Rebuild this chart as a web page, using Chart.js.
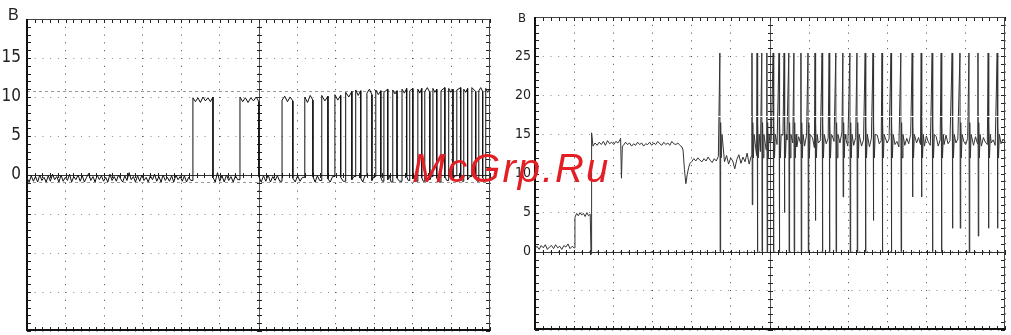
<!DOCTYPE html>
<html><head><meta charset="utf-8">
<script src="https://cdn.jsdelivr.net/npm/chart.js@4"></script>
<style>
html,body{margin:0;padding:0;background:#fff;width:1011px;height:335px;overflow:hidden;position:relative}
#wl{position:absolute;left:0;top:0;width:500px;height:335px}
#wr{position:absolute;left:500px;top:0;width:511px;height:335px}
.unit{position:absolute;color:#222;white-space:nowrap}
#ul{left:8px;top:7px;font:16px/16px 'Liberation Sans',Arial,sans-serif}
#ur{left:518px;top:11px;font:13px/13px 'Liberation Sans Narrow','DejaVu Sans Condensed',sans-serif}
#wm{position:absolute;left:412px;top:148px;font:italic 40px/40px 'Liberation Sans',Arial,sans-serif;letter-spacing:2px;color:#e31e24;white-space:nowrap}
</style></head><body>
<div id="wl"><canvas id="cl" width="500" height="335"></canvas></div>
<div id="wr"><canvas id="cr" width="511" height="335"></canvas></div>
<div class="unit" id="ul">В</div>
<div class="unit" id="ur">В</div>
<div id="wm">McGrp.Ru</div>
<script>
// ---------- LEFT OSCILLOGRAM (time units 0..120, 10 per division; volts -20..20) ----------
const leftYLabels = [0, 5, 10, 15];
const leftCursors = [10.8, -0.9];
// baseline noise before first pulse
const leftBase = [-0.4,-0.9,-0.1,-0.8,-0.2,-0.9,0.0,-0.7,-0.3,-0.9,-0.1,-0.8,0.1,-0.6,-0.2,-0.9,0.0,-0.8,-0.3,-0.7,
  0.1,-0.9,-0.2,-0.6,0.0,-0.8,-0.1,-0.9,-0.3,0.2,-0.7,-0.2,-0.9,0.0,-0.6,-0.1,-0.8,-0.3,-0.9,0.1,
  -0.7,-0.2,-0.8,0.0,-0.5,-0.9,-0.1,-0.7,0.3,-0.6,-0.2,-0.9,-0.1,-0.8,0.0,-0.7,-0.3,-0.9,-0.1,-0.6,
  0.1,-0.8,-0.2,-0.9,0.0,-0.7,-0.3,-0.8,-0.1,-0.9,0.0,-0.6,-0.2,-0.8,-0.1,-0.9,-0.3,-0.7];
// pulses: [start, end, top samples, low samples after]
const leftPulses = [
  [43.0, 48.2, [9.9,9.4,9.9,9.3,10.0,9.5,9.9,9.4,10.0], [-0.3,-0.9,0.3,-0.8,-0.1,-0.9,0.0,-0.7,-0.2,-0.9,-0.1,-0.6]],
  [55.2, 60.1, [10.0,9.4,9.9,9.3,9.9,9.5,10.0,9.4], [-0.2,-0.9,-0.1,-0.8,0.0,-0.9,-0.2,-0.7,-0.1,-0.8]],
  [66.1, 68.9, [9.6,10.1,9.4,10.0,9.5], [-0.4,-0.9,-0.1,-0.8,-0.3]],
  [72.0, 74.1, [10.0,9.3,10.2,9.6], [-0.2,-0.9,-0.1,-0.7]],
  [76.4, 78.0, [10.2,9.5,10.1], [-0.5,-0.9,-0.2]],
  [79.8, 81.3, [10.3,9.6,10.2], [-0.3,-0.8]],
  [82.6, 84.2, [10.6,10.0,10.7], [-0.6,-0.2]],
  [85.2, 86.5, [10.9,10.2,10.8], [-0.4,-0.9,-0.1]],
  [88.1, 89.4, [10.5,11.0,10.3], [-0.7,-0.2]],
  [90.4, 91.7, [10.9,10.3,10.8], [-0.3,-0.8]],
  [92.5, 93.5, [10.6,11.0], [-0.6,-0.1,-0.9]],
  [94.8, 95.9, [10.9,10.4,10.8], [-0.4,-0.8]],
  [97.2, 98.4, [11.0,10.5,11.1], [-0.2,-0.7]],
  [99.2, 100.0, [10.8,11.1], [-0.5,-0.1,-0.8]],
  [101.3, 102.3, [11.0,10.5,11.1], [-0.3,-0.8]],
  [103.1, 104.4, [10.7,11.2,10.6], [-0.6,-0.2]],
  [105.2, 106.2, [11.1,10.6,11.0], [-0.4,-0.9]],
  [107.3, 108.3, [10.8,11.2], [-0.2,-0.7]],
  [109.3, 110.4, [11.1,10.6,11.0], [-0.5,-0.1]],
  [111.4, 112.4, [10.9,11.2], [-0.3,-0.8]],
  [113.2, 114.2, [11.0,10.6,11.1], [-0.6,-0.2]],
  [115.3, 116.3, [11.2,10.7], [-0.4,-0.8]],
  [117.1, 118.1, [10.8,11.2,10.7], [-0.3,-0.7]],
  [118.9, 119.9, [11.1,10.6,11.0], []]
];

// ---------- RIGHT OSCILLOGRAM (time units 0..120; volts -10..30) ----------
const rightYLabels = [0, 5, 10, 15, 20, 25];
const rightCursor = 17.3;
// level segments: [start, end, samples]
const rightSegs = [
  [0, 10.0, [0.4,0.7,0.3,0.8,0.5,0.9,0.3,0.6,0.8,0.4,0.9,0.5,0.7,0.3,0.8,0.6,1.0,0.4,0.7,0.5]],
  [10.2, 14.1, [4.4,4.9,4.6,5.0,4.7,4.9,4.5,5.0,4.6,4.8]],
  [14.3, 14.45, [-0.3,15.2]],
  [14.8, 21.7, [13.5,13.9,13.6,14.0,13.7,14.1,13.6,14.2,13.8,14.0,13.7,14.1,13.9,14.3]],
  [21.85, 22.3, [14.5,9.4,13.5]],
  [22.6, 37.5, [13.6,14.0,13.7,13.9,13.5,13.8,13.6,14.0,13.7,13.9,13.5,13.8,13.7,14.0,13.6,13.9,13.7,14.1,13.8,13.6,
                14.0,13.7,13.9,13.6,14.1,13.8,13.7,13.9,13.6,13.4]],
  [37.8, 39.6, [13.0,10.5,8.7,9.9,10.8,11.3]],
  [40.0, 55.2, [11.5,11.9,11.6,12.0,11.7,11.5,11.9,11.6,12.1,11.7,11.4,11.9,11.6,12.2,11.3,11.8,11.5,12.3,11.2,12.0,
                11.6,10.6,11.8,12.4,11.3,12.1,11.5,12.6,11.2,12.2]],
  [55.6, 60.0, [11.2,11.8,12.3,12.0,12.8,12.5,13.2,13.0,13.6,13.9]],
  [60.3, 120, [14.2,13.5,14.8,13.7,14.5,13.3,14.9,13.8,14.3,13.6,15.0,13.9,14.4,13.4,14.7,13.8,14.1,13.5,14.9,14.0,
               13.6,14.6,13.3,14.8,13.9,14.2,13.5,15.2,13.8,14.5,13.6,14.9,14.1,13.4,14.7,13.9,15.3,13.7,14.4,13.5,
               14.8,14.0,13.6,14.6,13.8,15.1,13.5,14.3,13.9,14.7,13.4,14.5,14.0,13.6,14.9,13.8,14.2,13.5,14.6,13.9,
               14.4,13.6,14.8,13.7,14.1,13.4,14.7,14.0,13.6,14.5,13.8,15.0,13.5,14.3,13.9,14.6,13.7,14.2,13.5,14.8,
               14.0,13.6,14.4,13.9,14.7,13.5,14.3,14.0,13.7,14.9,13.8,14.2,13.6,14.6,13.9,14.4,13.5,14.8,14.1,13.7,
               14.5,13.9,14.2,13.6,14.7,13.8,14.4,13.5,14.6,14.0,13.7,14.5,13.9,14.3,13.6,14.8,14.1,13.8,14.4,14.0]]
];
// ignition spikes: [time, lowest value reached]
const rightSpikes = [
  [47.2,0],[55.4,6],[56.7,0],[57.9,0],[59.2,0],[60.8,0],[62.3,0],[63.6,5],[64.8,0],[66.1,0],
  [67.9,0],[69.7,0],[71.5,4],[73.3,0],[75.1,0],[76.8,0],[78.6,7],[80.4,0],[82.2,0],[84.3,0],
  [86.3,4],[88.6,0],[90.9,0],[93.4,0],[96.3,7],[98.6,7],[101.4,0],[103.7,0],[106.5,3],[108.5,3],
  [110.8,0],[113.1,2],[115.7,3],[118.0,3]
];
// spike waveform: [time offset, value] ('low' = spike minimum)
const spikeShape = [[0,25.4],[0.08,'low'],[0.2,16.5],[0.35,12.0],[0.55,15.0]];

function buildLeft(base, pulses, xmax){
  const pts = [];
  const first = pulses[0][0];
  base.forEach((v,i)=>pts.push({x: i*first/base.length, y: v}));
  pulses.forEach((p,k)=>{
    const [s,e,tops,lows] = p;
    const next = k+1 < pulses.length ? pulses[k+1][0] : xmax;
    pts.push({x: s, y: pts[pts.length-1].y});
    tops.forEach((v,j)=>pts.push({x: s + (tops.length>1 ? j*(e-s)/(tops.length-1) : 0), y: v}));
    lows.forEach((v,j)=>pts.push({x: e + j*(next-e)/lows.length, y: v}));
  });
  return pts;
}
function buildRight(segs, spikes, shape){
  let pts = [];
  segs.forEach(([a,b,vals])=>vals.forEach((v,j)=>pts.push({x: vals.length>1 ? a + j*(b-a)/(vals.length-1) : a, y: v})));
  spikes.forEach(([u,low])=>{
    pts = pts.filter(p=>p.x < u-0.05 || p.x > u+0.7);
    shape.forEach(([dx,y])=>pts.push({x: u+dx, y: y==='low' ? low : y}));
  });
  pts.sort((p,q)=>p.x-q.x);
  return pts;
}

const scopePlugin = {
  id: 'scope',
  beforeDatasetsDraw(chart, args, o){
    const {ctx, chartArea: ca, scales: {x, y}} = chart;
    ctx.save();
    (o.cursors||[]).forEach(v=>{
      const py = Math.round(y.getPixelForValue(v))+0.5;
      ctx.strokeStyle = '#9a9a9a'; ctx.lineWidth = 1; ctx.setLineDash([3,3]);
      ctx.beginPath(); ctx.moveTo(ca.left, py); ctx.lineTo(ca.right, py); ctx.stroke();
    });
    ctx.setLineDash([]);
    const cx = Math.round(x.getPixelForValue(o.centerX))+0.5;
    ctx.strokeStyle = '#555'; ctx.lineWidth = 1;
    ctx.beginPath(); ctx.moveTo(cx, ca.top); ctx.lineTo(cx, ca.bottom); ctx.stroke();
    const hys = (o.hLines||[]).map(v=>Math.round(y.getPixelForValue(v))+0.5);
    ctx.strokeStyle = '#333';
    hys.forEach(py=>{ ctx.beginPath(); ctx.moveTo(ca.left, py); ctx.lineTo(ca.right, py); ctx.stroke(); });
    ctx.strokeStyle = '#222';
    ctx.beginPath();
    for (let v = x.min; v <= x.max + 1e-6; v += o.minorX){
      const px = Math.round(x.getPixelForValue(v))+0.5;
      ctx.moveTo(px, ca.top); ctx.lineTo(px, ca.top+4);
      ctx.moveTo(px, ca.bottom); ctx.lineTo(px, ca.bottom-4);
      hys.forEach(py=>{ ctx.moveTo(px, py-2.5); ctx.lineTo(px, py+2.5); });
    }
    for (let v = y.min; v <= y.max + 1e-6; v += o.minorY){
      const py = Math.round(y.getPixelForValue(v))+0.5;
      ctx.moveTo(ca.left, py); ctx.lineTo(ca.left+4, py);
      ctx.moveTo(ca.right, py); ctx.lineTo(ca.right-4, py);
      ctx.moveTo(cx-2.5, py); ctx.lineTo(cx+2.5, py);
    }
    ctx.stroke();
    ctx.strokeStyle = '#444'; ctx.lineWidth = 1;
    ctx.beginPath();
    ctx.moveTo(ca.left, ca.top+0.5); ctx.lineTo(ca.right, ca.top+0.5);
    ctx.moveTo(ca.right-0.5, ca.top); ctx.lineTo(ca.right-0.5, ca.bottom);
    ctx.stroke();
    ctx.strokeStyle = '#111'; ctx.lineWidth = 2;
    ctx.beginPath();
    ctx.moveTo(ca.left, ca.top); ctx.lineTo(ca.left, ca.bottom);
    ctx.moveTo(ca.left, ca.bottom-1); ctx.lineTo(ca.right, ca.bottom-1);
    ctx.stroke();
    ctx.restore();
  },
  afterDatasetsDraw(chart, args, o){
    if (o.whiteLine == null) return;
    const {ctx, chartArea: ca, scales: {y}} = chart;
    const py = Math.round(y.getPixelForValue(o.whiteLine))+0.5;
    ctx.save();
    ctx.strokeStyle = '#fff'; ctx.lineWidth = 1; ctx.setLineDash([10,2]);
    ctx.beginPath(); ctx.moveTo(ca.left+3, py); ctx.lineTo(ca.right-3, py); ctx.stroke();
    ctx.restore();
  }
};

const tickFont = size => ({family: "'Liberation Sans Narrow','DejaVu Sans Condensed',sans-serif", size});
function noPad(s){ s.paddingTop = 0; s.paddingBottom = 0; s.paddingLeft = 0; s.paddingRight = 0; }

function makeScope(canvas, pts, cfg){
  return new Chart(canvas, {
    type: 'line',
    data: {datasets: [{data: pts, borderColor: cfg.color, borderWidth: 1, pointRadius: 0, tension: 0, fill: false}]},
    options: {
      responsive: false, animation: false, events: [], devicePixelRatio: 1,
      layout: {padding: cfg.padding},
      plugins: {legend: {display: false}, tooltip: {enabled: false},
        scope: {centerX: 60, hLines: cfg.hLines, minorX: 2, minorY: 1, cursors: cfg.cursors, whiteLine: cfg.whiteLine}},
      scales: {
        x: {type: 'linear', min: 0, max: 120,
            ticks: {display: false, stepSize: 10},
            grid: {color: '#444', lineWidth: 1, drawTicks: false},
            border: {display: false, dash: [1, 6.8]},
            afterFit(s){ s.height = 0; noPad(s); }},
        y: {type: 'linear', min: cfg.ymin, max: cfg.ymax,
            ticks: {stepSize: 5, autoSkip: false, padding: cfg.labelPad, color: '#222', font: tickFont(cfg.fontSize),
                    callback: v => cfg.labels.includes(v) ? String(v) : ''},
            grid: {color: '#8a8a8a', lineWidth: 1, drawTicks: false},
            border: {display: false, dash: [1, 6.72]},
            afterFit(s){ s.width = cfg.axisWidth; noPad(s); }}
      }
    },
    plugins: [scopePlugin]
  });
}

makeScope(document.getElementById('cl'), buildLeft(leftBase, leftPulses, 120), {
  color: '#111', padding: {left: 0, top: 19, right: 10, bottom: 4},
  ymin: -20, ymax: 20, labels: leftYLabels, fontSize: 17, labelPad: 6, axisWidth: 27,
  hLines: [0], cursors: leftCursors, whiteLine: null
});
makeScope(document.getElementById('cr'), buildRight(rightSegs, rightSpikes, spikeShape), {
  color: '#333', padding: {left: 0, top: 17, right: 6, bottom: 5},
  ymin: -10, ymax: 30, labels: rightYLabels, fontSize: 14, labelPad: 4, axisWidth: 35,
  hLines: [0], cursors: [], whiteLine: rightCursor
});
</script>
</body></html>
